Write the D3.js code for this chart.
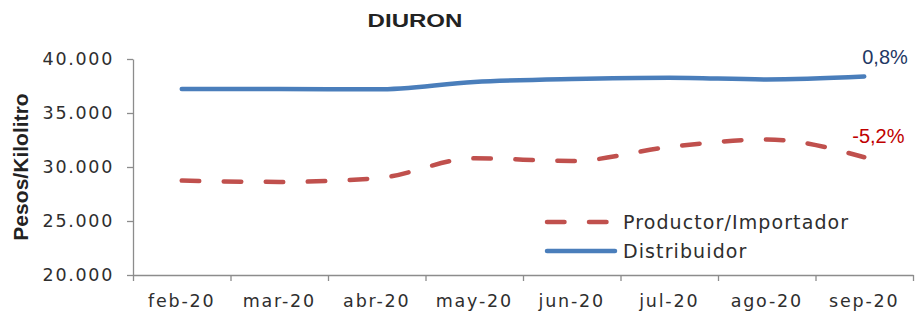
<!DOCTYPE html>
<html>
<head>
<meta charset="utf-8">
<script src="https://cdn.jsdelivr.net/npm/d3@7"></script>
<style>
    body { margin: 0; background: #fff; }
    svg { display: block; }
</style>
</head>
<body>
<svg id="chart"></svg>
<script>
// data
const months = ['feb-20', 'mar-20', 'abr-20', 'may-20', 'jun-20', 'jul-20', 'ago-20', 'sep-20'];
const productor = [28740, 28620, 28950, 30800, 30560, 31850, 32550, 30900];
const distribuidor = [37220, 37220, 37190, 37870, 38150, 38270, 38110, 38380];
const yTicks = [20000, 25000, 30000, 35000, 40000];
const endLabels = { productor: '-5,2%', distribuidor: '0,8%' };

const WIDTH = 920, HEIGHT = 311;
const MARGIN = { top: 59, right: 7, bottom: 36, left: 133 };
const COLORS = { blue: '#4A7EBB', red: '#C0504D', axis: '#8c8c8c', text: '#2e2e2e', navy: '#1F3864', darkred: '#C00000' };
const TICK_FONT = 'DejaVu Sans';

const innerW = WIDTH - MARGIN.left - MARGIN.right;
const innerH = HEIGHT - MARGIN.top - MARGIN.bottom;

const svg = d3.select('#chart')
    .attr('width', WIDTH)
    .attr('height', HEIGHT);

const g = svg.append('g')
    .attr('transform', `translate(${MARGIN.left},${MARGIN.top})`);

const x = d3.scaleBand().domain(months).range([0, innerW]);
const xEdges = d3.scaleLinear().domain([0, months.length]).range([0, innerW]);
const y = d3.scaleLinear().domain([20000, 40000]).range([innerH, 0]);
const fmt = d3.formatLocale({ decimal: ',', thousands: '.', grouping: [3], currency: ['$', ''] }).format(',.0f');

// y axis
const yAxis = g.append('g')
    .call(d3.axisLeft(y).tickValues(yTicks).tickFormat(fmt).tickSize(6).tickSizeOuter(0).tickPadding(13));
yAxis.selectAll('text')
    .attr('font-family', TICK_FONT)
    .attr('font-size', 17.5)
    .attr('letter-spacing', 1.7)
    .attr('fill', COLORS.text);

// x axis: ticks at band edges, labels at band centers
const xTickAxis = g.append('g')
    .attr('transform', `translate(0,${innerH})`)
    .call(d3.axisBottom(xEdges).tickValues(d3.range(months.length + 1)).tickFormat('').tickSize(6).tickSizeOuter(0));
const xLabelAxis = g.append('g')
    .attr('transform', `translate(0,${innerH})`)
    .call(d3.axisBottom(x).tickSize(0).tickPadding(19.3));
xLabelAxis.select('.domain').remove();
xLabelAxis.selectAll('text')
    .attr('font-family', TICK_FONT)
    .attr('font-size', 17.5)
    .attr('letter-spacing', 1.8)
    .attr('fill', COLORS.text);

g.selectAll('.domain, .tick line')
    .attr('stroke', COLORS.axis)
    .attr('stroke-width', 1.3);

// lines
const line = d3.line()
    .x((d, i) => x(months[i]) + x.bandwidth() / 2)
    .y(d => y(d))
    .curve(d3.curveMonotoneX);

g.append('path')
    .datum(distribuidor)
    .attr('d', line)
    .attr('fill', 'none')
    .attr('stroke', COLORS.blue)
    .attr('stroke-width', 4.5)
    .attr('stroke-linecap', 'round');

g.append('path')
    .datum(productor)
    .attr('d', line)
    .attr('fill', 'none')
    .attr('stroke', COLORS.red)
    .attr('stroke-width', 4.5)
    .attr('stroke-linecap', 'round')
    .attr('stroke-dasharray', '17.5,24.5');

// end labels
const lastX = x(months[months.length - 1]) + x.bandwidth() / 2;
g.append('text')
    .attr('x', lastX - 2)
    .attr('y', y(distribuidor[distribuidor.length - 1]) - 13)
    .attr('font-family', 'Liberation Sans, Arial, sans-serif')
    .attr('font-size', 20)
    .attr('fill', COLORS.navy)
    .text(endLabels.distribuidor);
g.append('text')
    .attr('x', lastX - 12)
    .attr('y', y(productor[productor.length - 1]) - 14)
    .attr('font-family', 'Liberation Sans, Arial, sans-serif')
    .attr('font-size', 20)
    .attr('fill', COLORS.darkred)
    .text(endLabels.productor);

// title (wide heavy face in the reference, so stretch a bold sans horizontally)
svg.append('text')
    .attr('transform', 'translate(415,27) scale(1.3,1)')
    .attr('text-anchor', 'middle')
    .attr('font-family', 'Liberation Sans, Arial, sans-serif')
    .attr('font-weight', 'bold')
    .attr('font-size', 18.5)
    .attr('fill', '#222')
    .text('DIURON');

// y axis title
svg.append('text')
    .attr('transform', 'translate(28,167) rotate(-90) scale(1.08,1)')
    .attr('text-anchor', 'middle')
    .attr('font-family', 'Liberation Sans, Arial, sans-serif')
    .attr('font-weight', 'bold')
    .attr('font-size', 19.5)
    .attr('fill', '#222')
    .text('Pesos/Kilolitro');

// legend
const legendItems = [
    { name: 'Productor/Importador', color: COLORS.red, dash: '17.5,24.5' },
    { name: 'Distribuidor', color: COLORS.blue, dash: null }
];
const legend = svg.append('g')
    .attr('transform', 'translate(547,222)');
const item = legend.selectAll('g')
    .data(legendItems)
    .enter()
    .append('g')
    .attr('transform', (d, i) => `translate(0,${i * 29})`);
item.append('line')
    .attr('x1', 0)
    .attr('x2', (d) => d.dash ? 64 : 68)
    .attr('stroke', (d) => d.color)
    .attr('stroke-width', 4.5)
    .attr('stroke-linecap', 'round')
    .attr('stroke-dasharray', (d) => d.dash);
item.append('text')
    .attr('x', 76)
    .attr('y', 7)
    .attr('font-family', TICK_FONT)
    .attr('font-size', 19)
    .attr('letter-spacing', 1.1)
    .attr('fill', COLORS.text)
    .text((d) => d.name);
</script>
</body>
</html>
